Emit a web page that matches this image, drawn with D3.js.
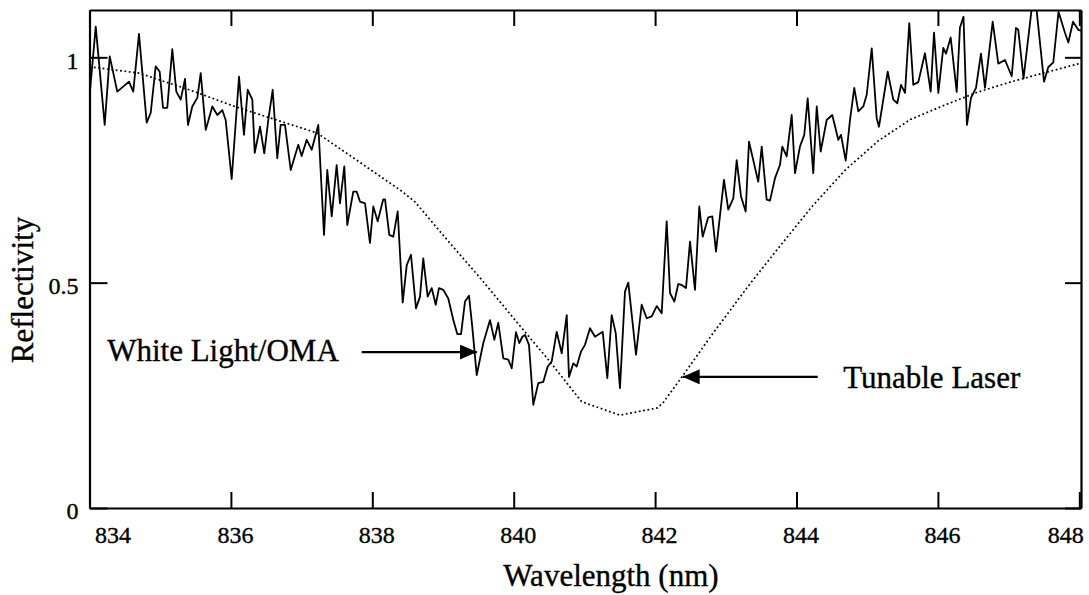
<!DOCTYPE html>
<html>
<head>
<meta charset="utf-8">
<script src="https://cdn.jsdelivr.net/npm/d3@7"></script>
<style>
  body { margin: 0; background: #fff; }
  svg text { font-family: "Liberation Serif", "Times New Roman", serif; fill: #000; stroke: #000; stroke-width: 0.35px; }
</style>
</head>
<body>
<script>
// white light / OMA spectrum (nm, reflectivity)
var wlWhite = [
  834.000, 834.088, 834.215, 834.286, 834.393, 834.559, 834.619, 834.700, 834.809, 834.866,
  834.936, 834.993, 835.040, 835.100, 835.171, 835.228, 835.290, 835.351, 835.393, 835.454,
  835.525, 835.573, 835.644, 835.737, 835.808, 835.878, 835.926, 836.011, 836.115, 836.185,
  836.238, 836.303, 836.337, 836.412, 836.472, 836.529, 836.591, 836.656, 836.704, 836.765,
  836.846, 836.953, 837.001, 837.072, 837.143, 837.236, 837.317, 837.363, 837.426, 837.496,
  837.543, 837.604, 837.646, 837.731, 837.779, 837.826, 837.897, 837.967, 838.014, 838.076,
  838.155, 838.180, 838.240, 838.297, 838.359, 838.430, 838.487, 838.547, 838.618, 838.675,
  838.721, 838.783, 838.840, 838.897, 838.943, 839.004, 839.075, 839.146, 839.202, 839.255,
  839.311, 839.368, 839.414, 839.477, 839.570, 839.665, 839.726, 839.782, 839.853, 839.924,
  839.972, 840.032, 840.079, 840.122, 840.160, 840.216, 840.277, 840.348, 840.419, 840.481,
  840.537, 840.608, 840.679, 840.750, 840.782, 840.843, 840.891, 840.952, 841.008, 841.079,
  841.150, 841.259, 841.324, 841.386, 841.443, 841.503, 841.574, 841.621, 841.730, 841.810,
  841.881, 841.952, 842.023, 842.093, 842.164, 842.211, 842.272, 842.328, 842.376, 842.437,
  842.494, 842.564, 842.625, 842.673, 842.752, 842.809, 842.861, 842.974, 843.035, 843.106,
  843.154, 843.215, 843.281, 843.328, 843.459, 843.508, 843.578, 843.625, 843.696, 843.766,
  843.799, 843.861, 843.932, 843.979, 844.049, 844.110, 844.158, 844.237, 844.286, 844.342,
  844.427, 844.506, 844.591, 844.629, 844.696, 844.757, 844.817, 844.874, 844.945, 844.993,
  845.064, 845.134, 845.167, 845.290, 845.369, 845.426, 845.478, 845.535, 845.595, 845.652,
  845.723, 845.817, 845.898, 845.945, 846.006, 846.076, 846.114, 846.181, 846.266, 846.312,
  846.362, 846.411, 846.468, 846.539, 846.609, 846.666, 846.775, 846.854, 846.949, 847.044,
  847.104, 847.137, 847.211, 847.331, 847.397, 847.501, 847.561, 847.632, 847.706, 847.798,
  847.845, 847.911, 847.986, 848.024
];
var rWhite = [
  0.912, 1.068, 0.850, 1.002, 0.924, 0.946, 0.924, 1.052, 0.855, 0.877,
  0.980, 0.968, 0.888, 0.888, 1.018, 0.924, 0.906, 0.952, 0.850, 0.891,
  0.910, 0.965, 0.839, 0.891, 0.872, 0.883, 0.861, 0.730, 0.957, 0.828,
  0.928, 0.906, 0.788, 0.846, 0.787, 0.861, 0.928, 0.776, 0.850, 0.850,
  0.750, 0.806, 0.781, 0.817, 0.795, 0.850, 0.606, 0.750, 0.647, 0.761,
  0.676, 0.758, 0.628, 0.702, 0.702, 0.680, 0.676, 0.588, 0.669, 0.636,
  0.685, 0.685, 0.606, 0.602, 0.658, 0.456, 0.539, 0.562, 0.443, 0.469,
  0.554, 0.469, 0.488, 0.451, 0.488, 0.484, 0.465, 0.417, 0.386, 0.386,
  0.458, 0.471, 0.402, 0.295, 0.366, 0.417, 0.373, 0.411, 0.332, 0.329,
  0.310, 0.390, 0.366, 0.380, 0.384, 0.362, 0.229, 0.277, 0.280, 0.314,
  0.325, 0.391, 0.343, 0.428, 0.291, 0.321, 0.314, 0.347, 0.362, 0.399,
  0.380, 0.391, 0.288, 0.428, 0.388, 0.266, 0.480, 0.500, 0.340, 0.451,
  0.421, 0.425, 0.448, 0.432, 0.636, 0.477, 0.458, 0.497, 0.495, 0.488,
  0.591, 0.484, 0.669, 0.602, 0.645, 0.647, 0.569, 0.728, 0.662, 0.687,
  0.772, 0.691, 0.658, 0.813, 0.724, 0.802, 0.684, 0.682, 0.732, 0.761,
  0.802, 0.780, 0.872, 0.743, 0.802, 0.828, 0.909, 0.743, 0.891, 0.791,
  0.861, 0.872, 0.817, 0.828, 0.771, 0.861, 0.932, 0.880, 0.891, 0.917,
  1.020, 0.865, 0.846, 0.968, 0.906, 0.898, 0.939, 0.921, 1.076, 0.939,
  0.945, 1.009, 0.924, 1.055, 0.921, 1.021, 1.008, 1.044, 0.923, 1.066,
  1.090, 0.850, 0.910, 0.932, 1.008, 0.932, 1.079, 0.986, 0.994, 0.958,
  1.065, 1.061, 0.953, 1.114, 1.103, 0.946, 0.978, 0.989, 1.101, 1.054,
  1.033, 1.079, 1.061, 1.059
];

// tunable laser scan
var wlLaser = [834.00, 834.70, 835.41, 836.07, 837.22, 838.39, 838.60, 839.08, 839.55, 840.02,
  840.49, 840.96, 841.50, 842.03, 842.11, 842.38, 842.82, 843.34, 843.74, 844.22,
  844.69, 845.16, 845.61, 846.08, 846.55, 847.02, 847.49, 848.02];
var rLaser = [0.979, 0.965, 0.928, 0.890, 0.832, 0.706, 0.680, 0.591, 0.506, 0.417,
  0.329, 0.236, 0.206, 0.222, 0.233, 0.291, 0.388, 0.497, 0.576, 0.669,
  0.750, 0.815, 0.862, 0.893, 0.922, 0.945, 0.965, 0.987];

var xTicks = [834, 836, 838, 840, 842, 844, 846, 848];
var yTicks = [0, 0.5, 1];
var yTickLabels = ["0", "0.5", "1"];

var width = 1089, height = 595;
var svg = d3.select("body").append("svg")
    .attr("width", width)
    .attr("height", height);

var x = d3.scaleLinear().domain([834, 848.024]).range([89.5, 1081]);
var y = d3.scaleLinear().domain([0, 1.105]).range([508, 10]);

svg.append("clipPath").attr("id", "plotclip")
  .append("rect")
    .attr("x", 89.5).attr("y", 10)
    .attr("width", 1081 - 89.5).attr("height", 498);

// axes (ticks point inward)
var bottom = svg.append("g")
    .attr("transform", "translate(0,508)")
    .call(d3.axisBottom(x).tickValues(xTicks).tickSizeInner(-16).tickSizeOuter(0)
      .tickPadding(18).tickFormat(d3.format("d")));
bottom.selectAll("text")
    .style("font-size", "24px")
    .attr("text-anchor", function(d) { return d == 834 ? "start" : d == 848 ? "end" : "middle"; })
    .attr("dx", function(d) { return d == 834 ? 5 : 4; });

svg.append("g")
    .attr("transform", "translate(0,10)")
    .call(d3.axisTop(x).tickValues(xTicks).tickSizeInner(-16).tickSizeOuter(0).tickFormat(""));

var left = svg.append("g")
    .attr("transform", "translate(89.5,0)")
    .call(d3.axisLeft(y).tickValues(yTicks).tickSizeInner(-18).tickSizeOuter(0)
      .tickPadding(11).tickFormat(function(d, i) { return yTickLabels[i]; }));
left.selectAll("text").style("font-size", "24px").attr("dy", "0.45em");

svg.append("g")
    .attr("transform", "translate(1081,0)")
    .call(d3.axisRight(y).tickValues(yTicks).tickSizeInner(-16).tickSizeOuter(0).tickFormat(""));

svg.selectAll(".domain").attr("stroke-width", 2.2);
svg.selectAll(".tick line").attr("stroke-width", 2);

// curves
var line = d3.line()
    .x(function(d) { return x(d[0]); })
    .y(function(d) { return y(d[1]); });

svg.append("path")
    .datum(d3.zip(wlLaser, rLaser))
    .attr("clip-path", "url(#plotclip)")
    .attr("fill", "none")
    .attr("stroke", "#000")
    .attr("stroke-width", 1.7)
    .attr("stroke-dasharray", "1.8,2.6")
    .attr("d", line);

svg.append("path")
    .datum(d3.zip(wlWhite, rWhite))
    .attr("clip-path", "url(#plotclip)")
    .attr("fill", "none")
    .attr("stroke", "#000")
    .attr("stroke-width", 1.8)
    .attr("stroke-linejoin", "round")
    .attr("d", line);

// annotations: [label, text x, text y, arrow from x, arrow tip x, arrow y]
var notes = [
  ["White Light/OMA", 834.25, 0.326, 837.85, 839.48, 0.346],
  ["Tunable Laser", 844.66, 0.266, 844.30, 842.39, 0.291]
];

svg.append("defs").append("marker")
    .attr("id", "head")
    .attr("viewBox", "0 0 17 15")
    .attr("refX", 17).attr("refY", 7.5)
    .attr("markerWidth", 17).attr("markerHeight", 15)
    .attr("markerUnits", "userSpaceOnUse")
    .attr("orient", "auto")
  .append("path")
    .attr("d", "M0,0L17,7.5L0,15Z")
    .attr("fill", "#000");

notes.forEach(function(n) {
  svg.append("text")
      .attr("x", x(n[1])).attr("y", y(n[2]))
      .style("font-size", "31px")
      .text(n[0]);
  svg.append("line")
      .attr("x1", x(n[3])).attr("x2", x(n[4]))
      .attr("y1", y(n[5])).attr("y2", y(n[5]))
      .attr("stroke", "#000").attr("stroke-width", 2.2)
      .attr("marker-end", "url(#head)");
});

// axis titles
svg.append("text")
    .attr("x", 611).attr("y", 586)
    .attr("text-anchor", "middle")
    .style("font-size", "31px")
    .text("Wavelength (nm)");

svg.append("text")
    .attr("transform", "translate(33,290) rotate(-90)")
    .attr("text-anchor", "middle")
    .style("font-size", "31px")
    .text("Reflectivity");
</script>
</body>
</html>
